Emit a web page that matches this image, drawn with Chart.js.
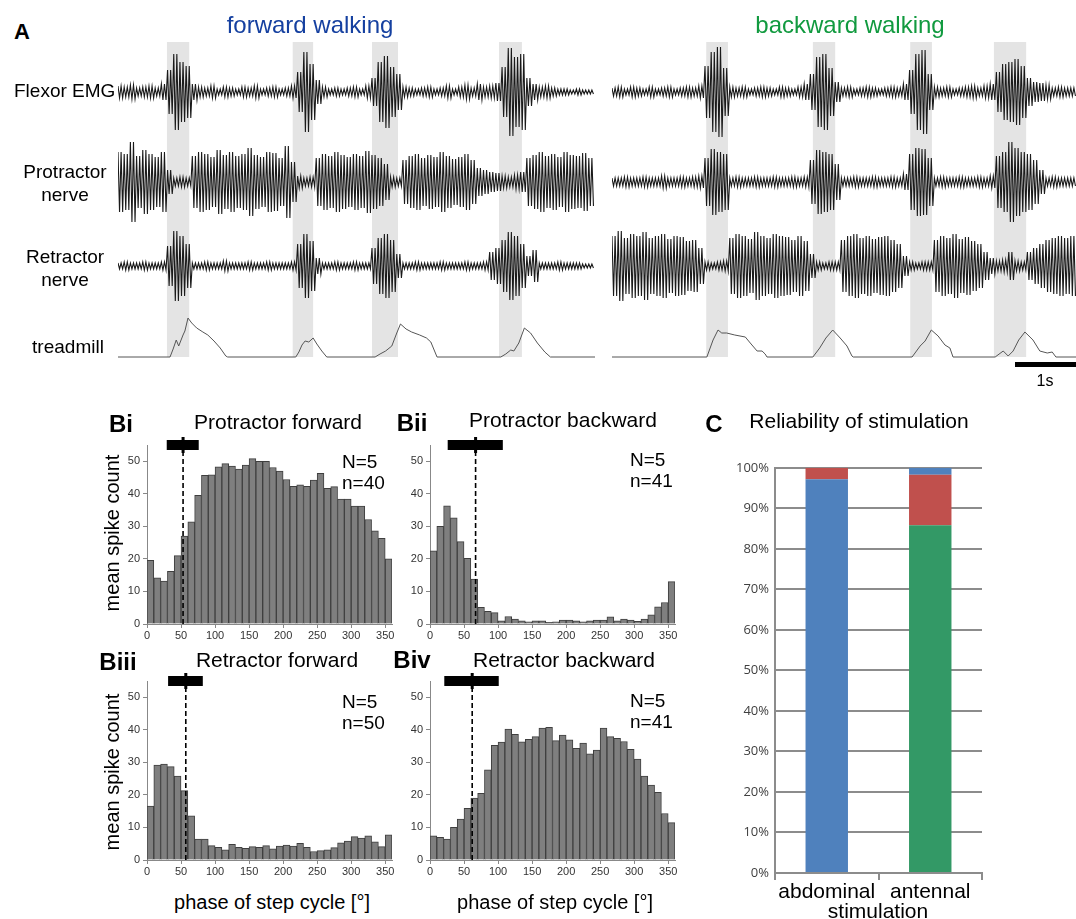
<!DOCTYPE html>
<html>
<head>
<meta charset="utf-8">
<script src="https://cdn.jsdelivr.net/npm/chart.js@4.4.0/dist/chart.umd.min.js"></script>
<style>
body { margin: 0; background: #fff; font-family: Arial, "Liberation Sans", sans-serif; }
#fig { position: relative; width: 1076px; height: 919px; overflow: hidden; background: #fff; }
canvas { position: absolute; }
.t { position: absolute; white-space: nowrap; color: #000; line-height: 1.1; }
.c { transform: translate(-50%, -50%); text-align: center; }
.rot { transform: translate(-50%, -50%) rotate(-90deg); }
</style>
</head>
<body>
<div id="fig">
  <!-- panel A -->
  <canvas id="bandsL" width="477" height="315" style="left:118px;top:42px"></canvas>
  <canvas id="bandsR" width="465" height="315" style="left:612px;top:42px"></canvas>
  <canvas id="emgL" width="477" height="110" style="left:118px;top:37px"></canvas>
  <canvas id="protL" width="477" height="110" style="left:118px;top:127px"></canvas>
  <canvas id="retL" width="477" height="110" style="left:118px;top:211px"></canvas>
  <canvas id="treadL" width="477" height="85" style="left:118px;top:305px"></canvas>
  <canvas id="emgR" width="465" height="110" style="left:612px;top:37px"></canvas>
  <canvas id="protR" width="465" height="110" style="left:612px;top:127px"></canvas>
  <canvas id="retR" width="465" height="110" style="left:612px;top:211px"></canvas>
  <canvas id="treadR" width="465" height="85" style="left:612px;top:305px"></canvas>

  <div class="t c" style="left:22px;top:32px;font-size:22px;font-weight:bold">A</div>
  <div class="t c" style="left:310px;top:25px;font-size:24px;color:#1540a0">forward walking</div>
  <div class="t c" style="left:850px;top:25px;font-size:24px;color:#119a3f">backward walking</div>
  <div class="t" style="left:14px;top:81px;font-size:19px">Flexor EMG</div>
  <div class="t c" style="left:65px;top:183px;font-size:19px;line-height:23px">Protractor<br>nerve</div>
  <div class="t c" style="left:65px;top:268px;font-size:19px;line-height:23px">Retractor<br>nerve</div>
  <div class="t c" style="left:68px;top:347px;font-size:19px">treadmill</div>
  <div class="t c" style="left:1045px;top:381px;font-size:16px">1s</div>

  <!-- panel B -->
  <canvas id="histBi" width="291" height="211" style="left:113px;top:435px"></canvas>
  <canvas id="histBii" width="291" height="211" style="left:396px;top:435px"></canvas>
  <canvas id="histBiii" width="291" height="211" style="left:113px;top:671px"></canvas>
  <canvas id="histBiv" width="291" height="211" style="left:396px;top:671px"></canvas>

  <div class="t c" style="left:121px;top:424px;font-size:24px;font-weight:bold">Bi</div>
  <div class="t c" style="left:278px;top:422px;font-size:21px">Protractor forward</div>
  <div class="t c" style="left:412px;top:423px;font-size:24px;font-weight:bold">Bii</div>
  <div class="t c" style="left:563px;top:420px;font-size:21px">Protractor backward</div>
  <div class="t c" style="left:118px;top:662px;font-size:24px;font-weight:bold">Biii</div>
  <div class="t c" style="left:277px;top:660px;font-size:21px">Retractor forward</div>
  <div class="t c" style="left:412px;top:660px;font-size:24px;font-weight:bold">Biv</div>
  <div class="t c" style="left:564px;top:660px;font-size:21px">Retractor backward</div>

  <div class="t rot" style="left:112px;top:533px;font-size:20px">mean spike count</div>
  <div class="t rot" style="left:112px;top:772px;font-size:20px">mean spike count</div>
  <div class="t c" style="left:272px;top:902px;font-size:20px">phase of step cycle [°]</div>
  <div class="t c" style="left:555px;top:902px;font-size:20px">phase of step cycle [°]</div>

  <div class="t" style="left:342px;top:451px;font-size:19px;line-height:21px">N=5<br>n=40</div>
  <div class="t" style="left:630px;top:449px;font-size:19px;line-height:21px">N=5<br>n=41</div>
  <div class="t" style="left:342px;top:691px;font-size:19px;line-height:21px">N=5<br>n=50</div>
  <div class="t" style="left:630px;top:690px;font-size:19px;line-height:21px">N=5<br>n=41</div>

  <!-- panel C -->
  <canvas id="relC" width="267" height="447" style="left:725px;top:454px"></canvas>
  <div class="t c" style="left:714px;top:424px;font-size:24px;font-weight:bold">C</div>
  <div class="t c" style="left:859px;top:421px;font-size:21px">Reliability of stimulation</div>
  <div class="t c" style="left:878px;top:911px;font-size:21px">stimulation</div>
</div>

<script>
// ---- panel A: recordings, amplitude envelope per 0.1 s bin ----
const binSec = 0.1;
const strokesPerBin = 4;
const durLeft = 7.7;
const durRight = 7.5;

const emgLeft = [6,5,7,4,5,6,4,8, 22,38,30,26, 8, 5,4,6,3,5,4,3,5,4,6,3,4,5,3,4,6, 20,40,28,12, 5,3,4,3,4,5,3,6, 14,30,36,25,18, 5,4,3,4,5,3,4,6,3,5,7,4,8,5,6,9, 25,44,35,38,14, 8,5,6,4,3,3,2,3,2,2];
const protLeft = [30,28,40,26,32,28,25,30,12, 4,5,4, 26,30,28,25,32,27,30,26,28,34,27,25,30,29,24,36,20, 6,4,5, 24,28,26,30,27,25,28,26,31,27,24,18, 5,4, 22,26,28,24,27,25,30,26,23,25,28,22, 14,12,10,9, 6,5,7,10, 24,27,30,26,28,25,30,27,26,29,24];
const retLeft = [3,4,3,3,4,3,3,4, 20,35,30,22, 3,3,4,3,3,5,3,3,3,4,3,3,4,3,3,3,4, 22,32,25,8, 3,3,4,3,3,4,3,3, 18,28,32,26,12, 3,3,4,3,3,3,4,3,3,3,4,3,3,4, 14,18, 26,34,30,22,10, 16, 3,3,3,4,3,3,3,2,2];

const emgRight = [4,5,3,5,4,3,5,3,4,5,3,4,5,4,6, 26,40,45,24, 5,4,5,3,4,5,4,3,5,4,3,5,8, 18,35,38,24,10, 4,5,3,4,5,4,3,4,5,4,8, 22,38,42,18, 5,4,5,3,4,5,6,4,6,8, 20,28,30,33,26,14, 10,9,7, 4,5,4,4];
const protRight = [4,4,5,4,4,5,4,4,6,4,4,5,4,5,6, 24,33,30,28, 4,5,4,4,5,4,4,5,4,4,5,4,5, 22,32,30,28,18, 4,4,5,4,4,5,4,4,5,4,8, 28,34,33,24, 4,5,4,4,5,4,4,5,4,6, 26,30,40,34,30,28,22,12, 4,5,4,4,4];
const retRight = [30,35,28,32,30,34,28,30,32,27,30,29,25,26,18, 4,3,4,5, 28,32,30,27,34,30,28,32,30,29,26,30,25,12, 4,3,4,4, 26,30,32,28,30,27,29,30,26,22,10, 4,3,4,4, 26,30,28,32,27,29,25,22,14,8, 5,6,14,5,4, 14,18,22,26,28,30,28,30];

const treadLeftTime = [0,0.84,0.89,0.94,0.98,1.05,1.08,1.13,1.19,1.27, 1.37,1.45,1.55,1.65,1.74,1.77, 2.87,2.92,2.97,3.02,3.08,3.15,3.21,3.29,3.37, 4.15,4.23,4.32,4.42,4.50,4.56,4.65,4.74,4.87,4.98,5.05,5.15, 6.18,6.26,6.34,6.39,6.47,6.56,6.66,6.77,6.89,6.98, 7.7];
const treadLeftSignal = [0,0,8,17,11,22,26,39,34,29, 25,22,16,9,1,0, 0,5,12,16,15,19,13,6,0, 0,3,6,11,24,33,28,25,22,19,15,0, 0,3,7,6,14,29,24,14,5,0, 0];
const treadRightTime = [0,1.53,1.63,1.71,1.77,1.85,1.98,2.15,2.23,2.34, 2.42,2.47,2.50, 3.24,3.35,3.45,3.56,3.68,3.79,3.87,3.89, 4.84,4.97,5.05,5.15,5.26,5.37,5.45,5.50, 6.18,6.31,6.39,6.47,6.56,6.66,6.79,6.90,7.02,7.10,7.16, 7.5];
const treadRightSignal = [0,0,17,27,24,24,22,20,14,6, 6,3,0, 0,9,19,27,19,11,1,0, 0,11,16,27,21,12,9,0, 0,6,1,6,17,25,17,6,4,5,0, 0];

// stance phases (grey bars), seconds
const stanceLeft = [[0.79, 1.15], [2.82, 3.15], [4.10, 4.52], [6.15, 6.52]];
const stanceRight = [[1.52, 1.87], [3.24, 3.60], [4.81, 5.16], [6.16, 6.68]];
const scaleBarSec = [6.5, 7.5];

// ---- panel B: phase histograms ----
const phaseBinCenters = [5,15,25,35,45,55,65,75,85,95,105,115,125,135,145,155,165,175,185,195,205,215,225,235,245,255,265,275,285,295,305,315,325,335,345,355];
const phaseTicks = [0,50,100,150,200,250,300,350];
const countTicks = [0,10,20,30,40,50];

const protFwd = [19.6,14.2,13.2,16.2,21.0,27.0,31.4,39.5,45.7,45.8, 48.3,49.3,48.5,47.6,48.8,50.8,50.0,50.0,48.1,47.0, 44.4,42.3,42.8,42.3,44.2,46.3,41.7,42.2,38.4,38.4, 36.2,36.2,32.1,28.6,26.3,20.0];
const protBwd = [22.5,30.0,36.3,32.6,25.3,20.2,13.8,5.1,3.9,3.5, 1.0,2.3,1.5,1.0,0.7,1.0,1.0,0.5,0.7,1.2, 1.2,1.0,0.7,1.0,1.2,1.2,2.2,1.0,1.5,1.2, 0.8,1.5,2.8,5.3,6.6,13.0];
const retFwd = [16.6,29.2,29.5,28.7,25.8,21.3,13.6,6.4,6.4,4.4, 3.9,3.1,4.8,3.9,3.6,4.1,3.9,4.4,3.4,4.3, 4.6,4.3,5.1,3.9,2.6,2.9,3.1,3.8,5.3,5.8, 7.2,6.7,7.4,5.6,4.1,7.7];
const retBwd = [7.4,7.0,6.4,10.0,12.6,15.9,19.0,20.5,27.7,35.2, 36.2,40.2,38.6,36.3,37.1,37.9,40.5,40.8,36.7,38.4, 36.9,34.3,35.9,32.6,33.8,40.5,37.9,37.4,36.4,34.0, 31.0,25.8,23.0,20.8,14.3,11.5];

// stimulation phase: mean and +/- SD (deg)
const stimMean = [53, 67, 57, 62];
const stimLo = [29, 26, 31, 21];
const stimHi = [76, 107, 82, 101];

// ---- panel C ----
const stimLabels = ['abdominal', 'antennal'];
const intendedPct = [97.2, 85.8];
const noWalkPct = [2.8, 12.5];
const oppositePct = [0, 1.7];

Chart.defaults.font.family = 'Arial, "Liberation Sans", sans-serif';
Chart.defaults.animation = false;
Chart.defaults.responsive = false;
Chart.defaults.events = [];
Chart.defaults.plugins.legend.display = false;
Chart.defaults.plugins.tooltip.enabled = false;

const bandsPlugin = {
    id: 'bands',
    beforeDatasetsDraw(chart, args, opts) {
        const { ctx, chartArea, scales: { x } } = chart;
        ctx.save();
        ctx.fillStyle = '#e4e4e4';
        opts.ranges.forEach(r => {
            const x0 = x.getPixelForValue(r[0]);
            const x1 = x.getPixelForValue(r[1]);
            ctx.fillRect(x0, chartArea.top, x1 - x0, chartArea.bottom - chartArea.top);
        });
        ctx.restore();
    }
};

const scaleBarPlugin = {
    id: 'scaleBar',
    afterDatasetsDraw(chart, args, opts) {
        if (!opts.range) return;
        const { ctx, scales: { x, y } } = chart;
        const x0 = x.getPixelForValue(opts.range[0]);
        const x1 = x.getPixelForValue(opts.range[1]);
        ctx.save();
        ctx.fillStyle = '#000';
        ctx.fillRect(x0, y.getPixelForValue(-5), x1 - x0, 5);
        ctx.restore();
    }
};

const phaseMarker = {
    id: 'phaseMarker',
    afterDatasetsDraw(chart, args, o) {
        const { ctx, scales: { x, y } } = chart;
        const xm = x.getPixelForValue(o.mean);
        const xl = x.getPixelForValue(o.lo);
        const xr = x.getPixelForValue(o.hi);
        const yb = y.getPixelForValue(55);
        ctx.save();
        ctx.fillStyle = '#000';
        ctx.fillRect(xl, yb - 5, xr - xl, 10);
        ctx.fillRect(xm - 1.5, yb - 8, 3, 16);
        ctx.strokeStyle = '#000';
        ctx.lineWidth = 1.6;
        ctx.setLineDash([5, 3]);
        ctx.beginPath();
        ctx.moveTo(xm, yb + 6);
        ctx.lineTo(xm, y.getPixelForValue(0));
        ctx.stroke();
        ctx.restore();
    }
};

function bandChart(id, ranges, dur) {
    new Chart(document.getElementById(id), {
        type: 'line',
        data: { datasets: [{ data: [] }] },
        options: {
            layout: { padding: 0 },
            plugins: { bands: { ranges: ranges } },
            scales: {
                x: { type: 'linear', display: false, min: 0, max: dur },
                y: { display: false, min: 0, max: 1 }
            }
        },
        plugins: [bandsPlugin]
    });
}

// each bin's envelope is drawn as a tight up/down stroke pattern
function traceChart(id, amps, dur) {
    const pts = [];
    const step = binSec / strokesPerBin;
    amps.forEach((a, i) => {
        for (let k = 0; k < strokesPerBin; k++) {
            pts.push({ x: i * binSec + k * step, y: k % 2 === 0 ? a : -a });
        }
    });
    new Chart(document.getElementById(id), {
        type: 'line',
        data: { datasets: [{ data: pts, borderColor: '#1a1a1a', borderWidth: 1.1, pointRadius: 0, tension: 0 }] },
        options: {
            layout: { padding: 0 },
            scales: {
                x: { type: 'linear', display: false, min: 0, max: dur },
                y: { display: false, min: -55, max: 55 }
            }
        }
    });
}

function treadChart(id, times, signal, dur, bar) {
    new Chart(document.getElementById(id), {
        type: 'line',
        data: { datasets: [{ data: times.map((t, i) => ({ x: t, y: signal[i] })), borderColor: '#555', borderWidth: 1, pointRadius: 0, tension: 0 }] },
        options: {
            layout: { padding: 0 },
            plugins: { scaleBar: { range: bar } },
            scales: {
                x: { type: 'linear', display: false, min: 0, max: dur },
                y: { display: false, min: -33, max: 52 }
            }
        },
        plugins: [scaleBarPlugin]
    });
}

bandChart('bandsL', stanceLeft, durLeft);
bandChart('bandsR', stanceRight, durRight);
traceChart('emgL', emgLeft, durLeft);
traceChart('protL', protLeft, durLeft);
traceChart('retL', retLeft, durLeft);
traceChart('emgR', emgRight, durRight);
traceChart('protR', protRight, durRight);
traceChart('retR', retRight, durRight);
treadChart('treadL', treadLeftTime, treadLeftSignal, durLeft, null);
treadChart('treadR', treadRightTime, treadRightSignal, durRight, scaleBarSec);

function histChart(id, counts, k) {
    new Chart(document.getElementById(id), {
        type: 'bar',
        data: {
            datasets: [{
                data: counts.map((c, i) => ({ x: phaseBinCenters[i], y: c })),
                backgroundColor: '#7f7f7f',
                borderColor: '#3f3f3f',
                borderWidth: 1,
                barPercentage: 1,
                categoryPercentage: 1
            }]
        },
        options: {
            layout: { padding: { top: 10, right: 12, left: 0, bottom: 0 } },
            plugins: { phaseMarker: { mean: stimMean[k], lo: stimLo[k], hi: stimHi[k] } },
            scales: {
                x: {
                    type: 'linear', offset: false, min: 0, max: 360,
                    afterBuildTicks: ax => { ax.ticks = phaseTicks.map(v => ({ value: v })); },
                    afterFit: ax => { ax.height = 22; },
                    grid: { display: true, offset: false, drawOnChartArea: false, tickLength: 4, color: '#888' },
                    border: { display: true, color: '#888' },
                    ticks: { font: { size: 11 }, color: '#333', maxRotation: 0, autoSkip: false, padding: 1 }
                },
                y: {
                    min: 0, max: 55,
                    afterBuildTicks: ax => { ax.ticks = countTicks.map(v => ({ value: v })); },
                    afterFit: ax => { ax.width = 34; },
                    grid: { display: true, drawOnChartArea: false, tickLength: 4, color: '#888' },
                    border: { display: true, color: '#888' },
                    ticks: { font: { size: 11 }, color: '#333', padding: 3 }
                }
            }
        },
        plugins: [phaseMarker]
    });
}

histChart('histBi', protFwd, 0);
histChart('histBii', protBwd, 1);
histChart('histBiii', retFwd, 2);
histChart('histBiv', retBwd, 3);

new Chart(document.getElementById('relC'), {
    type: 'bar',
    data: {
        labels: stimLabels,
        datasets: [
            { label: 'intended direction', data: intendedPct, backgroundColor: ['#4f81bd', '#339966'] },
            { label: 'no walking', data: noWalkPct, backgroundColor: '#c0504d' },
            { label: 'opposite direction', data: oppositePct, backgroundColor: '#4f81bd' }
        ]
    },
    options: {
        barPercentage: 0.41,
        categoryPercentage: 1,
        layout: { padding: { top: 10, right: 10, left: 0, bottom: 0 } },
        scales: {
            x: {
                stacked: true,
                afterFit: ax => { ax.height = 28; },
                grid: { display: true, offset: true, drawOnChartArea: false, tickLength: 7, color: '#8c8c8c', lineWidth: 2 },
                border: { display: true, color: '#8c8c8c', width: 2 },
                ticks: { font: { size: 21 }, color: '#000', padding: 0 }
            },
            y: {
                stacked: true, min: 0, max: 100,
                afterFit: ax => { ax.width = 50; },
                ticks: { stepSize: 10, font: { family: '"Open Sans", sans-serif', size: 13 }, color: '#404040', padding: 6, callback: v => v + '%' },
                grid: { color: '#8c8c8c', lineWidth: 2, drawTicks: false },
                border: { display: true, color: '#8c8c8c', width: 2 }
            }
        }
    }
});
</script>
</body>
</html>
